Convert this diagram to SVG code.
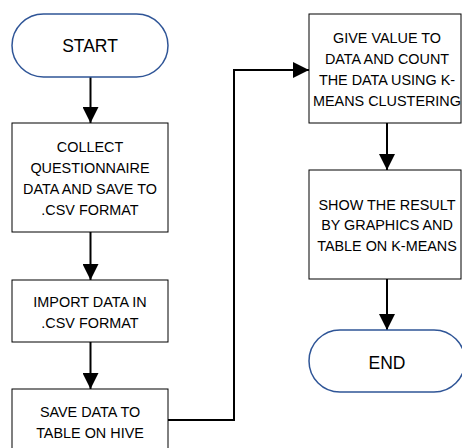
<svg xmlns="http://www.w3.org/2000/svg" width="462" height="448" viewBox="0 0 462 448">
<defs>
<style>
.term{fill:#fff;stroke:#2F5597;stroke-width:1.5}
.box{fill:#fff;stroke:#000;stroke-width:1}
.t{font-family:"Liberation Sans",Arial,sans-serif;font-size:14.4px;fill:#000;text-anchor:middle}
.tt{font-family:"Liberation Sans",Arial,sans-serif;font-size:17.5px;fill:#000;text-anchor:middle}
.c{fill:none;stroke:#000;stroke-width:2}
</style>
<marker id="ah" viewBox="0 0 16 16" refX="16" refY="8" markerWidth="16" markerHeight="16" markerUnits="userSpaceOnUse" orient="auto">
<path d="M0,0 L16,8 L0,16 Z" fill="#000"/>
</marker>
</defs>
<rect width="462" height="448" fill="#fff"/>
<g id="connectors">
<line class="c" x1="90.5" y1="77" x2="90.5" y2="123" marker-end="url(#ah)"/>
<line class="c" x1="90.5" y1="232" x2="90.5" y2="280" marker-end="url(#ah)"/>
<line class="c" x1="90.5" y1="342" x2="90.5" y2="389" marker-end="url(#ah)"/>
<polyline class="c" points="168,420 234,420 234,70 309,70" marker-end="url(#ah)"/>
<line class="c" x1="387" y1="123" x2="387" y2="170" marker-end="url(#ah)"/>
<line class="c" x1="387" y1="279" x2="387" y2="330" marker-end="url(#ah)"/>
</g>
<g id="start">
<rect class="term" x="12" y="14" width="156" height="63" rx="31.5"/>
<text class="tt" x="90" y="52">START</text>
</g>
<g id="collect">
<rect class="box" x="12" y="123" width="156" height="109"/>
<text class="t" x="90" y="152">COLLECT</text>
<text class="t" x="90" y="173">QUESTIONNAIRE</text>
<text class="t" x="90" y="194">DATA AND SAVE TO</text>
<text class="t" x="90" y="215">.CSV FORMAT</text>
</g>
<g id="import">
<rect class="box" x="12" y="280" width="156" height="62"/>
<text class="t" x="90" y="307">IMPORT DATA IN</text>
<text class="t" x="90" y="328">.CSV FORMAT</text>
</g>
<g id="save">
<rect class="box" x="12" y="389" width="156" height="70"/>
<text class="t" x="90" y="417">SAVE DATA TO</text>
<text class="t" x="90" y="438">TABLE ON HIVE</text>
</g>
<g id="kmeans">
<rect class="box" x="309" y="14" width="152" height="109"/>
<text class="t" x="387" y="43">GIVE VALUE TO</text>
<text class="t" x="387" y="64">DATA AND COUNT</text>
<text class="t" x="387" y="85">THE DATA USING K-</text>
<text class="t" x="387" y="106">MEANS CLUSTERING</text>
</g>
<g id="show">
<rect class="box" x="309" y="170" width="152" height="109"/>
<text class="t" x="387" y="210">SHOW THE RESULT</text>
<text class="t" x="387" y="230">BY GRAPHICS AND</text>
<text class="t" x="387" y="251">TABLE ON K-MEANS</text>
</g>
<g id="end">
<rect class="term" x="309" y="330" width="156" height="62" rx="31"/>
<text class="tt" x="387" y="369">END</text>
</g>
</svg>
